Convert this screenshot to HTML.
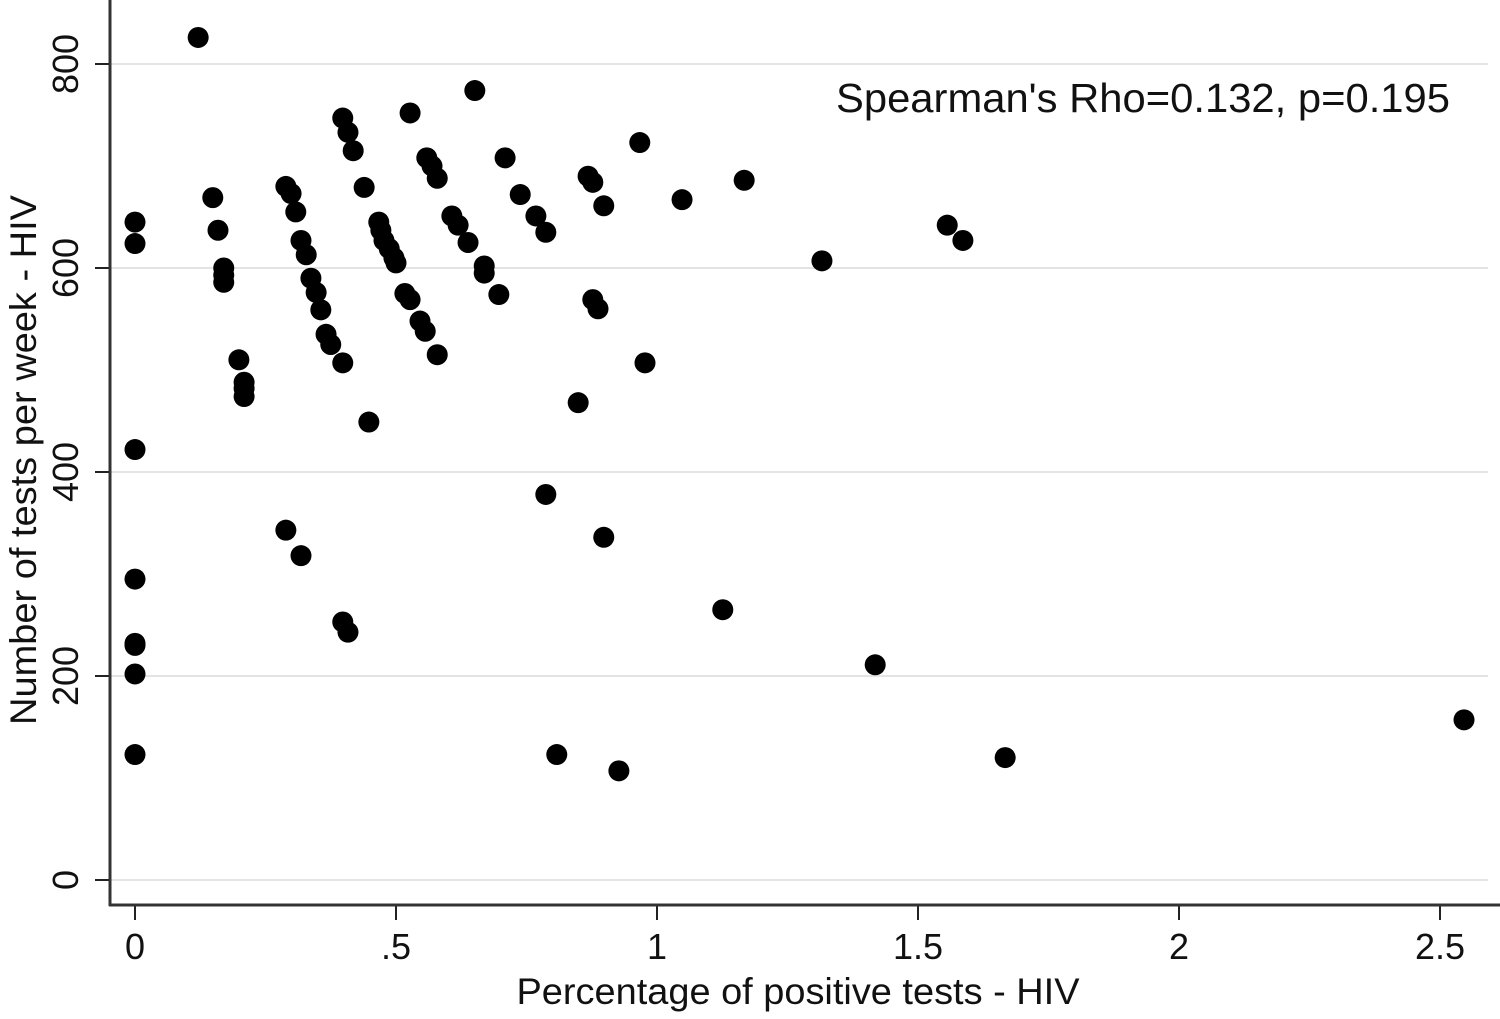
<!DOCTYPE html>
<html><head><meta charset="utf-8"><style>
html,body{margin:0;padding:0;background:#fff;}
svg{display:block;font-family:"Liberation Sans",Arial,sans-serif;}
</style></head><body>
<svg id="chart" width="1500" height="1019" viewBox="0 0 1500 1019">
<g id="grid"></g>
<g id="axes"></g>
<g id="pts"></g>
<text x="1450" y="112" font-size="41" text-anchor="end" fill="#111" textLength="614" lengthAdjust="spacingAndGlyphs">Spearman's Rho=0.132, p=0.195</text>
<text x="798" y="1004" font-size="37" text-anchor="middle" fill="#111" textLength="563" lengthAdjust="spacingAndGlyphs">Percentage of positive tests - HIV</text>
<text transform="translate(36,460) rotate(-90)" font-size="37" text-anchor="middle" fill="#111" textLength="530" lengthAdjust="spacingAndGlyphs">Number of tests per week - HIV</text>
</svg>
<script>
const xTicks=[0,0.5,1,1.5,2,2.5];
const xTickLabels=["0",".5","1","1.5","2","2.5"];
const yTicks=[0,200,400,600,800];
const yTickLabels=["0","200","400","600","800"];
const xVals=[0.121,0.651,0,0,0.149,0.159,0.170,0.170,0.170,0.199,0.209,0.209,0.209,0,0,0,0,0,0,0.289,0.299,0.308,0.318,0.328,0.337,0.347,0.356,0.366,0.375,0.398,0.448,0.289,0.318,0.398,0.408,0.398,0.408,0.418,0.439,0.467,0.471,0.477,0.487,0.496,0.500,0.517,0.527,0.546,0.556,0.579,0.527,0.559,0.569,0.579,0.607,0.619,0.638,0.669,0.669,0.697,0.709,0.738,0.768,0.787,0.967,0.868,0.877,0.898,0.877,0.887,0.977,0.849,0.787,0.898,1.048,1.167,1.316,1.556,1.586,1.126,1.418,0.808,0.927,1.667,2.546];
const yVals=[826,774,645,624,669,637,600,593,586,510,488,482,474,422,295,232,230,202,123,680,673,655,627,613,590,576,559,535,525,507,449,343,318,253,243,747,733,715,679,645,637,627,619,610,605,575,569,548,538,515,752,708,700,688,651,642,625,602,595,574,708,672,651,635,723,690,684,661,569,560,507,468,378,336,667,686,607,642,627,265,211,123,107,120,157];
const X=v=>135+v*522, Y=v=>880-v*1.02;
const ns="http://www.w3.org/2000/svg";
function mk(tag,attrs,parent){const e=document.createElementNS(ns,tag);for(const k in attrs)e.setAttribute(k,attrs[k]);parent.appendChild(e);return e;}
const grid=document.getElementById('grid'),axes=document.getElementById('axes'),pts=document.getElementById('pts');
yTicks.forEach((t,i)=>{
  const g=mk('line',{x1:110,x2:1488,y1:Y(t),y2:Y(t),stroke:'#e4e4e4','stroke-width':2},grid);
  
  
  const tk=mk('line',{x1:95,x2:110,y1:Y(t),y2:Y(t),stroke:'#222','stroke-width':2},axes);
  
  
  const lb=mk('text',{transform:`translate(78,${Y(t)}) rotate(-90)`,'font-size':36,'text-anchor':'middle',fill:'#111'},axes);
  lb.textContent=yTickLabels[i];
  
  
});
xTicks.forEach((t,i)=>{
  const tk=mk('line',{x1:X(t),x2:X(t),y1:905,y2:920,stroke:'#222','stroke-width':2},axes);
  
  
  const lb=mk('text',{x:X(t),y:959,'font-size':36,'text-anchor':'middle',fill:'#111'},axes);
  lb.textContent=xTickLabels[i];
  
  
});
const ya=mk('line',{x1:110,x2:110,y1:0,y2:906,stroke:'#333','stroke-width':3},axes);


const xa=mk('line',{x1:109,x2:1500,y1:905,y2:905,stroke:'#333','stroke-width':3},axes);


xVals.forEach((v,i)=>{
  const c=mk('circle',{cx:X(v),cy:Y(yVals[i]),r:10.5,fill:'#000'},pts);
  
  
});
</script>
</body></html>
